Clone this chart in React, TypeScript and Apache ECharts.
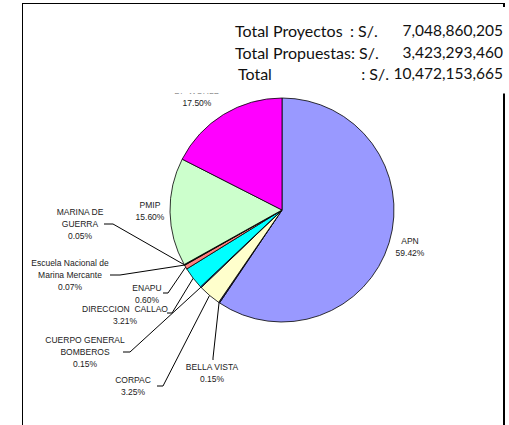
import React, { useEffect, useRef } from "react";
import * as echarts from "echarts";

// ---- data ----
const categories = [
  "APN",
  "BELLA VISTA",
  "CORPAC",
  "CUERPO GENERAL\nBOMBEROS",
  "DIRECCION  CALLAO",
  "ENAPU",
  "Escuela Nacional de\nMarina Mercante",
  "MARINA DE\nGUERRA",
  "PMIP",
  "DP WORLD",
];
const shares = [59.42, 0.15, 3.25, 0.15, 3.21, 0.6, 0.07, 0.05, 15.6, 17.5];
const totalLabels = ["Total Proyectos", "Total Propuestas:", "Total"];
const totalPrefixes = [": S/.", "S/.", ": S/."];
const totalValues = ["7,048,860,205", "3,423,293,460", "10,472,153,665"];

// ---- styles / layout ----
const colors = [
  "#9999FF",
  "#333399",
  "#FFFFCC",
  "#3366FF",
  "#00FFFF",
  "#FF8080",
  "#FF8080",
  "#008000",
  "#CCFFCC",
  "#FF00FF",
];
const CX = 282;
const CY = 210;
const R = 112;
const labelPos: number[][] = [
  [410, 247],
  [212, 373],
  [133, 386],
  [85, 352],
  [125, 315],
  [147, 294],
  [70, 275],
  [80, 224],
  [150, 211],
  [197, 97],
];
const lineEnds: (number[][] | null)[] = [
  null,
  [[213, 358], [213, 360]],
  [[163, 386], [157, 386]],
  [[130, 352], [123, 352]],
  [[172, 313], [167, 313]],
  [[168, 293], [163, 293]],
  [[120, 275], [110, 275]],
  [[113, 224], [104, 224]],
  null,
  null,
];
const titleRows = [30, 52, 73];
const titleLabelX = [235, 235, 238];
const titlePrefixX = [350, 359, 389];
const titlePrefixAlign = ["left", "left", "right"];

function edgePoint(i: number): number[] {
  const total = shares.reduce((a, b) => a + b, 0);
  let before = 0;
  for (let k = 0; k < i; k++) before += shares[k];
  const frac = (before + shares[i] / 2) / total;
  const th = frac * Math.PI * 2;
  return [CX + R * Math.sin(th), CY - R * Math.cos(th)];
}

export default function App() {
  const ref = useRef<HTMLDivElement>(null);
  useEffect(() => {
    if (!ref.current) return;
    const chart = echarts.init(ref.current, null, { renderer: "svg" });
    const textFont = "Lato, 'Open Sans', sans-serif";
    const graphics: any[] = [
      { type: "line", shape: { x1: 22.5, y1: 3.5, x2: 22.5, y2: 430 }, style: { stroke: "#000", lineWidth: 1 }, z: 1 },
      { type: "line", shape: { x1: 22, y1: 3.5, x2: 505, y2: 3.5 }, style: { stroke: "#000", lineWidth: 1 }, z: 1 },
      { type: "line", shape: { x1: 504, y1: 3, x2: 504, y2: 430 }, style: { stroke: "#000", lineWidth: 2 }, z: 1 },
      { type: "rect", shape: { x: 165, y: 7, width: 350, height: 86.5 }, style: { fill: "#fff" }, z: 100, zlevel: 1 },
    ];
    const txt = (text: string, x: number, y: number, size: number, align: string) => ({
      type: "text",
      x,
      y,
      z: 101,
      zlevel: 1,
      style: { text, fontFamily: textFont, fontSize: size, fill: "#111", textAlign: align, textVerticalAlign: "middle" },
    });
    totalLabels.forEach((t, i) => {
      graphics.push(txt(t, titleLabelX[i], titleRows[i], 16, "left"));
      graphics.push(txt(totalPrefixes[i], titlePrefixX[i], titleRows[i], 16, titlePrefixAlign[i]));
      graphics.push(txt(totalValues[i], 503, titleRows[i], 15.5, "right"));
    });
    chart.setOption({
      animation: false,
      backgroundColor: "#fff",
      graphic: graphics,
      series: [
        {
          type: "pie",
          z: 1,
          center: [CX, CY],
          radius: R,
          startAngle: 90,
          clockwise: true,
          avoidLabelOverlap: false,
          minAngle: 0,
          data: categories.map((name, i) => ({
            name,
            value: shares[i],
            itemStyle: { color: colors[i] },
            labelLine: { show: lineEnds[i] !== null },
          })),
          itemStyle: { borderColor: "#000", borderWidth: 0.8 },
          emphasis: { disabled: true },
          label: {
            show: true,
            position: "outside",
            fontFamily: "'Liberation Sans', Arial, sans-serif",
            fontSize: 8.5,
            lineHeight: 12,
            color: "#222",
            formatter: (p: any) => `${p.name}\n${shares[p.dataIndex].toFixed(2)}%`,
          },
          labelLine: { show: true, lineStyle: { color: "#000", width: 1 } },
          labelLayout: (params: any) => {
            const i = params.dataIndex;
            const p = labelPos[i];
            const res: any = { x: p[0], y: p[1], align: "center", verticalAlign: "middle" };
            const ends = lineEnds[i];
            if (ends) res.labelLinePoints = [edgePoint(i), ends[0], ends[1]];
            return res;
          },
        },
      ],
    });
    return () => chart.dispose();
  }, []);
  return (
    <div
      ref={ref}
      style={{ position: "fixed", left: 0, top: 0, width: 509, height: 425 }}
    />
  );
}
